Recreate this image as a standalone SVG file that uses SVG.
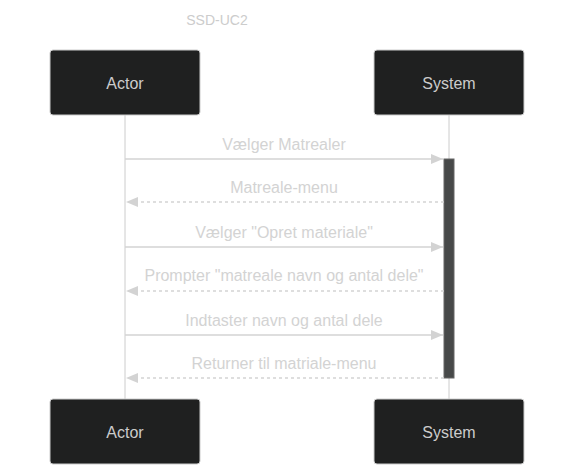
<svg xmlns="http://www.w3.org/2000/svg" width="574" height="475" viewBox="0 0 574 475">
<defs>
<style>
.actor{fill:#1f2020;stroke:#cccccc;stroke-width:1}
.atext{fill:#cccccc;font-family:"Liberation Sans",Arial,sans-serif;font-size:16px;text-anchor:middle;dominant-baseline:central}
.life{stroke:#cccccc;stroke-width:1}
.msg{stroke:#d3d3d3;stroke-width:1.5;fill:none}
.dash{stroke-dasharray:3,3}
.mtext{fill:#d3d3d3;font-family:"Liberation Sans",Arial,sans-serif;font-size:16px;text-anchor:middle}
.title{fill:#cccccc;font-family:"Liberation Sans",Arial,sans-serif;font-size:14px;text-anchor:middle}
</style>
<marker id="ah" viewBox="0 0 12 10" refX="12" refY="5" markerWidth="12" markerHeight="10" markerUnits="userSpaceOnUse" orient="auto">
<path d="M0,0 L12,5 L0,10 Z" fill="#d3d3d3"/>
</marker>
</defs>
<rect width="574" height="475" fill="#ffffff"/>
<text class="title" x="217" y="25">SSD-UC2</text>
<g id="lifelines">
<line class="life" x1="125" y1="115" x2="125" y2="399"/>
<line class="life" x1="449" y1="115" x2="449" y2="399"/>
</g>
<g id="actor-top"><rect class="actor" x="50" y="50" width="150" height="65" rx="3"/><text class="atext" x="125" y="83">Actor</text></g>
<g id="system-top"><rect class="actor" x="374" y="50" width="150" height="65" rx="3"/><text class="atext" x="449" y="83">System</text></g>
<g id="actor-bottom"><rect class="actor" x="50" y="399" width="150" height="65" rx="3"/><text class="atext" x="125" y="432">Actor</text></g>
<g id="system-bottom"><rect class="actor" x="374" y="399" width="150" height="65" rx="3"/><text class="atext" x="449" y="432">System</text></g>
<g id="activation"><rect x="444" y="159" width="10" height="219" fill="#474949" stroke="#666666" stroke-width="1"/></g>
<g id="connectors">
<line class="msg" x1="125" y1="159" x2="443" y2="159" marker-end="url(#ah)"/>
<line class="msg dash" x1="444" y1="202" x2="126" y2="202" marker-end="url(#ah)"/>
<line class="msg" x1="125" y1="247" x2="443" y2="247" marker-end="url(#ah)"/>
<line class="msg dash" x1="444" y1="291" x2="126" y2="291" marker-end="url(#ah)"/>
<line class="msg" x1="125" y1="335" x2="443" y2="335" marker-end="url(#ah)"/>
<line class="msg dash" x1="444" y1="378" x2="126" y2="378" marker-end="url(#ah)"/>
</g>
<g id="labels">
<text class="mtext" x="284" y="150">Vælger Matrealer</text>
<text class="mtext" x="284" y="193">Matreale-menu</text>
<text class="mtext" x="284" y="238">Vælger "Opret materiale"</text>
<text class="mtext" x="284" y="281">Prompter "matreale navn og antal dele"</text>
<text class="mtext" x="284" y="326">Indtaster navn og antal dele</text>
<text class="mtext" x="284" y="369">Returner til matriale-menu</text>
</g>
</svg>
